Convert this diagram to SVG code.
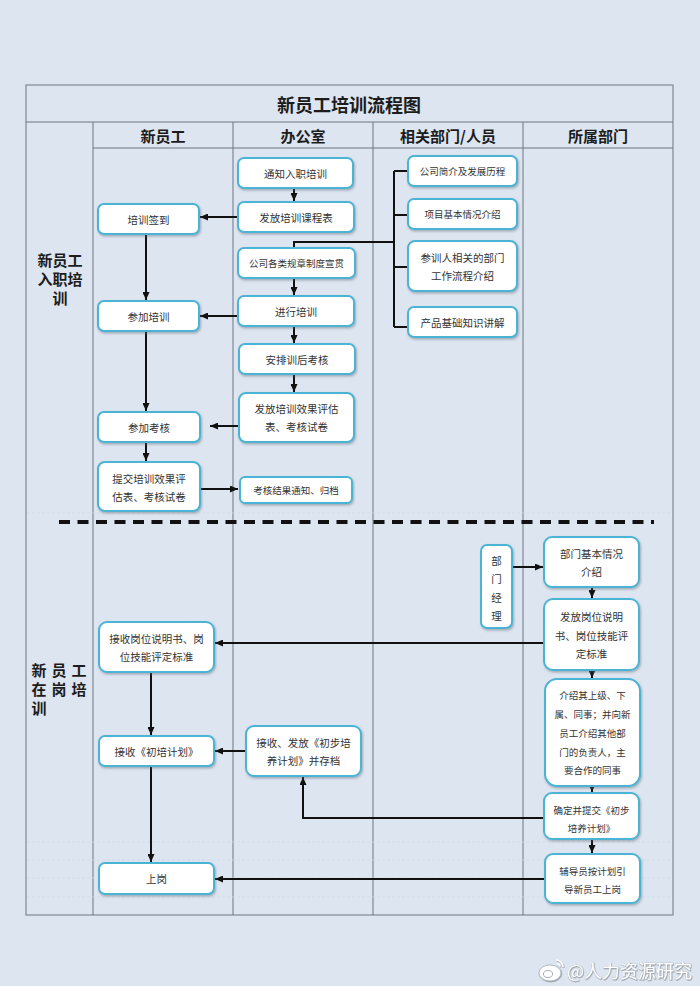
<svg xmlns="http://www.w3.org/2000/svg" width="700" height="986" viewBox="0 0 700 986">
<defs>
<style>
.bg{fill:#dce5f0}
.frame{fill:none;stroke:#6f7680;stroke-width:1}
.faint{stroke:#d0d8e2;stroke-width:0.7;stroke-dasharray:3 2}
.box{fill:#ffffff;stroke:#4cb4d4;stroke-width:2;filter:url(#sh)}
.t{font-family:"Noto Sans CJK SC","Noto Sans",sans-serif;fill:#333;text-anchor:middle;dominant-baseline:central}
.s105{font-size:10.5px}
.s95{font-size:9.5px}
.hd{font-family:"Noto Sans CJK SC","Noto Sans",sans-serif;font-weight:bold;fill:#1c1c1c;font-size:15px;text-anchor:middle;dominant-baseline:central}
.ln{fill:none;stroke:#111;stroke-width:2}
.ar{marker-end:url(#ah)}
</style>
<filter id="sh" x="-10%" y="-10%" width="125%" height="130%">
<feDropShadow dx="1" dy="1.5" stdDeviation="0.8" flood-color="#5a6470" flood-opacity="0.45"/>
</filter>
<filter id="wm" x="-5%" y="-20%" width="110%" height="150%">
<feDropShadow dx="0.6" dy="0.8" stdDeviation="0.6" flood-color="#6a7078" flood-opacity="0.7"/>
</filter>
<marker id="ah" viewBox="0 0 8 7" refX="8" refY="3.5" markerWidth="8" markerHeight="7" markerUnits="userSpaceOnUse" orient="auto">
<path d="M0,0 L8,3.5 L0,7 z" fill="#111"/>
</marker>
</defs>
<rect class="bg" x="0" y="0" width="700" height="986"/>

<g id="table">
<rect class="frame" x="26" y="85" width="647" height="830"/>
<line class="frame" x1="26" y1="122" x2="673" y2="122"/>
<line class="frame" x1="93" y1="148" x2="673" y2="148"/>
<line class="frame" x1="93" y1="122" x2="93" y2="915"/>
<line class="frame" x1="233" y1="122" x2="233" y2="915"/>
<line class="frame" x1="373" y1="122" x2="373" y2="915"/>
<line class="frame" x1="523" y1="122" x2="523" y2="915"/>
<line class="faint" x1="27" y1="513" x2="672" y2="513"/>
<line class="faint" x1="27" y1="842" x2="672" y2="842"/>
<line class="faint" x1="27" y1="860" x2="672" y2="860"/>
<line class="faint" x1="27" y1="878" x2="672" y2="878"/>
<line class="faint" x1="27" y1="897" x2="672" y2="897"/>
<text class="hd" x="349" y="104" style="font-size:18px">新员工培训流程图</text>
<text class="hd" x="163" y="135">新员工</text>
<text class="hd" x="303" y="135">办公室</text>
<text class="hd" x="448" y="135">相关部门/人员</text>
<text class="hd" x="598" y="135">所属部门</text>
</g>

<g id="lane-label-1">
<text class="hd" x="60" y="259">新员工</text>
<text class="hd" x="60" y="278">入职培</text>
<text class="hd" x="60" y="297">训</text>
</g>
<g id="lane-label-2">
<text class="hd" x="39" y="669">新</text>
<text class="hd" x="59" y="669">员</text>
<text class="hd" x="79" y="669">工</text>
<text class="hd" x="39" y="688">在</text>
<text class="hd" x="59" y="688">岗</text>
<text class="hd" x="79" y="688">培</text>
<text class="hd" x="39" y="707">训</text>
</g>

<line id="separator" x1="59" y1="522" x2="654" y2="522" stroke="#111" stroke-width="4" stroke-dasharray="11 7.5"/>

<g id="connectors">
<path class="ln ar" d="M294 188 V201"/>
<path class="ln ar" d="M238 217 H200"/>
<path class="ln ar" d="M146 234 V300"/>
<path class="ln" d="M294 248 V242 H394"/>
<path class="ln" d="M394 171 V327"/>
<path class="ln" d="M394 171 H408 M394 215 H408 M394 267 H408 M394 327 H408"/>
<path class="ln ar" d="M294 278 V295"/>
<path class="ln ar" d="M238 316 H200"/>
<path class="ln ar" d="M294 326 V343"/>
<path class="ln ar" d="M294 374 V392"/>
<path class="ln ar" d="M239 426 H210"/>
<path class="ln ar" d="M146 331 V411"/>
<path class="ln ar" d="M146 442 V461"/>
<path class="ln ar" d="M200 489 H238"/>
<path class="ln ar" d="M512 567 H543"/>
<path class="ln ar" d="M592 587 V598"/>
<path class="ln ar" d="M544 643 H215"/>
<path class="ln ar" d="M592 671 V678"/>
<path class="ln ar" d="M151 672 V735"/>
<path class="ln ar" d="M246 751 H215"/>
<path class="ln ar" d="M592 786 V792"/>
<path class="ln ar" d="M544 818 H303 V777"/>
<path class="ln ar" d="M592 839 V853"/>
<path class="ln ar" d="M151 766 V862"/>
<path class="ln ar" d="M545 879 H215"/>
</g>

<g id="n-tongzhi"><rect class="box" x="238" y="158" width="115" height="30" rx="6"/><text class="t s105" x="295.5" y="173">通知入职培训</text></g>
<g id="n-fafang-kecheng"><rect class="box" x="238" y="202" width="116" height="30" rx="6"/><text class="t s105" x="296" y="217">发放培训课程表</text></g>
<g id="n-qiandao"><rect class="box" x="98" y="204" width="101" height="30" rx="6"/><text class="t s105" x="148.5" y="219">培训签到</text></g>
<g id="n-guizhang"><rect class="box" x="238" y="248" width="117" height="30" rx="6"/><text class="t s95" x="296.5" y="263">公司各类规章制度宣贯</text></g>
<g id="n-jianjie"><rect class="box" x="408" y="156" width="109" height="30" rx="6"/><text class="t s95" x="462.5" y="171">公司简介及发展历程</text></g>
<g id="n-xiangmu"><rect class="box" x="408" y="199" width="109" height="30" rx="6"/><text class="t s95" x="462.5" y="214">项目基本情况介绍</text></g>
<g id="n-liucheng"><rect class="box" x="408" y="241" width="109" height="50" rx="7"/><text class="t s105" x="462.5" y="257">参训人相关的部门</text><text class="t s105" x="462.5" y="275">工作流程介绍</text></g>
<g id="n-chanpin"><rect class="box" x="408" y="307" width="109" height="30" rx="6"/><text class="t s105" x="462.5" y="322">产品基础知识讲解</text></g>
<g id="n-jinxing"><rect class="box" x="238" y="296" width="116" height="30" rx="6"/><text class="t s105" x="296" y="311">进行培训</text></g>
<g id="n-canjia-peixun"><rect class="box" x="98" y="301" width="101" height="30" rx="6"/><text class="t s105" x="148.5" y="316">参加培训</text></g>
<g id="n-anpai"><rect class="box" x="239" y="344" width="116" height="30" rx="6"/><text class="t s105" x="297" y="359">安排训后考核</text></g>
<g id="n-fafang-pinggu"><rect class="box" x="239" y="393" width="115" height="49" rx="7"/><text class="t s105" x="296.5" y="408.5">发放培训效果评估</text><text class="t s105" x="296.5" y="426.5">表、考核试卷</text></g>
<g id="n-canjia-kaohe"><rect class="box" x="98" y="412" width="102" height="30" rx="6"/><text class="t s105" x="149" y="427">参加考核</text></g>
<g id="n-tijiao"><rect class="box" x="98" y="462" width="102" height="49" rx="7"/><text class="t s105" x="149" y="478">提交培训效果评</text><text class="t s105" x="149" y="496.5">估表、考核试卷</text></g>
<g id="n-jieguo"><rect class="box" x="240" y="477" width="112" height="26" rx="5"/><text class="t s95" x="296" y="490">考核结果通知、归档</text></g>

<g id="n-jingli"><rect class="box" x="481" y="545" width="31" height="83" rx="6"/><text class="t s105" x="496.5" y="560">部</text><text class="t s105" x="496.5" y="578.5">门</text><text class="t s105" x="496.5" y="597">经</text><text class="t s105" x="496.5" y="615.5">理</text></g>
<g id="n-bumen-jieshao"><rect class="box" x="544" y="537" width="95" height="50" rx="8"/><text class="t s105" x="591.5" y="553">部门基本情况</text><text class="t s105" x="591.5" y="571">介绍</text></g>
<g id="n-fafang-gangwei"><rect class="box" x="544" y="599" width="95" height="71" rx="9"/><text class="t s105" x="591.5" y="616.5">发放岗位说明</text><text class="t s105" x="591.5" y="635">书、岗位技能评</text><text class="t s105" x="591.5" y="653">定标准</text></g>
<g id="n-jieshou-gangwei"><rect class="box" x="99" y="622" width="115" height="50" rx="8"/><text class="t s105" x="156.5" y="638">接收岗位说明书、岗</text><text class="t s105" x="156.5" y="656">位技能评定标准</text></g>
<g id="n-jieshao-tongshi"><rect class="box" x="545" y="679" width="95" height="107" rx="12"/><text class="t s95" x="592.5" y="695">介绍其上级、下</text><text class="t s95" x="592.5" y="714">属、同事；并向新</text><text class="t s95" x="592.5" y="733">员工介绍其他部</text><text class="t s95" x="592.5" y="752">门的负责人，主</text><text class="t s95" x="592.5" y="770">要合作的同事</text></g>
<g id="n-jieshou-chupei"><rect class="box" x="99" y="736" width="115" height="30" rx="6"/><text class="t s105" x="156.5" y="751">接收《初培计划》</text></g>
<g id="n-jieshou-fafang"><rect class="box" x="246" y="726" width="115" height="50" rx="8"/><text class="t s105" x="303.5" y="742">接收、发放《初步培</text><text class="t s105" x="303.5" y="760">养计划》并存档</text></g>
<g id="n-queding"><rect class="box" x="544" y="793" width="95" height="46" rx="8"/><text class="t s95" x="591.5" y="810">确定并提交《初步</text><text class="t s95" x="591.5" y="828">培养计划》</text></g>
<g id="n-shanggang"><rect class="box" x="99" y="863" width="115" height="31" rx="6"/><text class="t s105" x="156.5" y="878.5">上岗</text></g>
<g id="n-fudao"><rect class="box" x="545" y="854" width="95" height="49" rx="8"/><text class="t s95" x="592.5" y="871">辅导员按计划引</text><text class="t s95" x="592.5" y="889">导新员工上岗</text></g>

<g id="watermark" filter="url(#wm)">
<ellipse cx="550" cy="973" rx="11" ry="8" fill="#ffffff" stroke="#a7adb4" stroke-width="0.8"/>
<ellipse cx="548" cy="974" rx="4.5" ry="3.5" fill="none" stroke="#a7adb4" stroke-width="1"/>
<path d="M556 960 a7 7 0 0 1 7 7 M557 963.5 a3.5 3.5 0 0 1 3 3" fill="none" stroke="#ffffff" stroke-width="1.6"/>
<text x="567" y="970" font-family="'Noto Sans CJK SC','Noto Sans',sans-serif" font-size="18" fill="#ffffff" stroke="#b0b6bd" stroke-width="0.4" paint-order="stroke" dominant-baseline="central">@人力资源研究</text>
</g>
</svg>
